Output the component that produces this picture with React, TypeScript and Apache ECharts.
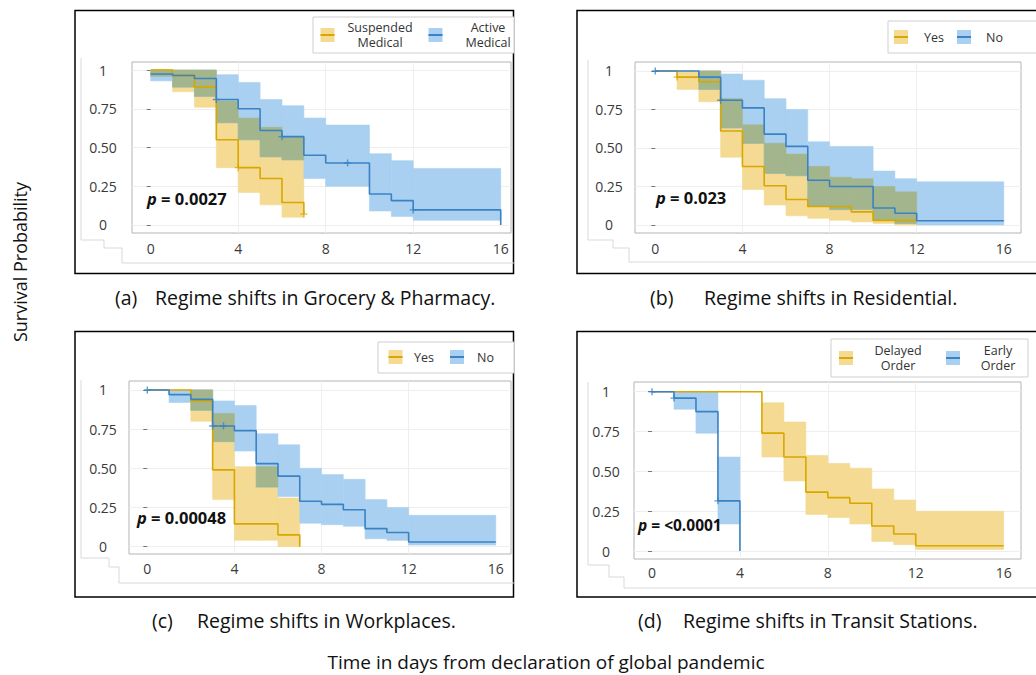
import React, { useEffect, useRef } from "react";
import * as echarts from "echarts";

const FONT = '"Open Sans", "Noto Sans", "DejaVu Sans", sans-serif';

// ---------------- data ----------------
const xTicks = [0, 4, 8, 12, 16];
const yTicks = [0, 0.25, 0.5, 0.75, 1];

// (a) Grocery & Pharmacy
const aSuspT = [0, 1, 2, 3, 4, 5, 6, 7];
const aSuspS = [1, 0.97, 0.89, 0.55, 0.37, 0.3, 0.145, 0.07];
const aSuspBandT = [0, 1, 2, 3, 4, 5, 6, 7];
const aSuspLo = [0.96, 0.86, 0.76, 0.37, 0.21, 0.13, 0.05];
const aSuspHi = [1, 1, 1, 0.8, 0.69, 0.63, 0.57];
const aSuspCens = [4, 7];
const aActT = [0, 1, 2, 3, 4, 5, 6, 7, 8, 10, 11, 12, 16];
const aActS = [0.975, 0.965, 0.945, 0.81, 0.75, 0.61, 0.57, 0.45, 0.4, 0.2, 0.157, 0.097, 0];
const aActBandT = [0, 1, 2, 3, 4, 5, 6, 7, 8, 10, 11, 12, 16];
const aActLo = [0.93, 0.89, 0.83, 0.66, 0.55, 0.44, 0.42, 0.3, 0.25, 0.09, 0.055, 0.03];
const aActHi = [1, 1, 1, 0.97, 0.92, 0.81, 0.77, 0.69, 0.645, 0.46, 0.415, 0.365];
const aActCens = [3, 6, 9, 12];

// (b) Residential
const bYesT = [0, 1, 2, 3, 4, 5, 6, 7, 9, 10, 12];
const bYesS = [1, 0.96, 0.93, 0.61, 0.38, 0.255, 0.165, 0.12, 0.085, 0.03, 0.03];
const bYesBandT = [1, 2, 3, 4, 5, 6, 7, 8, 9, 10, 11, 12];
const bYesLo = [0.88, 0.8, 0.44, 0.23, 0.13, 0.06, 0.043, 0.03, 0.02, 0.01, 0];
const bYesHi = [1, 1, 0.82, 0.65, 0.53, 0.46, 0.38, 0.31, 0.3, 0.25, 0.215];
const bYesCens = [1];
const bNoT = [0, 2, 3, 4, 5, 6, 7, 8, 10, 11, 12, 16];
const bNoS = [1, 0.96, 0.81, 0.76, 0.59, 0.51, 0.29, 0.25, 0.11, 0.076, 0.028, 0.028];
const bNoBandT = [2, 3, 4, 5, 6, 7, 8, 10, 11, 12, 16];
const bNoLo = [0.88, 0.63, 0.53, 0.335, 0.32, 0.12, 0.1, 0.03, 0.01, 0];
const bNoHi = [1, 0.98, 0.94, 0.82, 0.75, 0.54, 0.51, 0.35, 0.3, 0.28];
const bNoCens = [0, 3];

// (c) Workplaces
const cYesT = [0, 2, 3, 4, 6, 7];
const cYesS = [1, 0.93, 0.49, 0.145, 0.075, 0];
const cYesBandT = [2, 3, 4, 5, 6, 7];
const cYesLo = [0.8, 0.3, 0.04, 0.04, 0];
const cYesHi = [1, 0.85, 0.51, 0.51, 0.31];
const cYesCens: number[] = [];
const cNoT = [0, 1, 2, 3, 4, 5, 6, 7, 8, 9, 10, 11, 12, 16];
const cNoS = [1, 0.97, 0.94, 0.77, 0.74, 0.53, 0.45, 0.29, 0.27, 0.235, 0.115, 0.09, 0.03, 0.03];
const cNoBandT = [1, 2, 3, 4, 5, 6, 7, 8, 9, 10, 11, 12, 16];
const cNoLo = [0.92, 0.87, 0.67, 0.61, 0.38, 0.32, 0.15, 0.14, 0.13, 0.05, 0.04, 0.01];
const cNoHi = [1, 1, 0.93, 0.9, 0.72, 0.65, 0.5, 0.46, 0.43, 0.3, 0.25, 0.2];
const cNoCens = [0, 3, 3.5];

// (d) Transit Stations
const dDelT = [0, 5, 6, 7, 8, 9, 10, 11, 12, 16];
const dDelS = [1, 0.74, 0.59, 0.37, 0.335, 0.3, 0.157, 0.107, 0.033, 0.033];
const dDelBandT = [5, 6, 7, 8, 9, 10, 11, 12, 16];
const dDelLo = [0.59, 0.44, 0.23, 0.21, 0.17, 0.06, 0.04, 0.01];
const dDelHi = [0.93, 0.81, 0.6, 0.55, 0.52, 0.39, 0.32, 0.25];
const dDelCens: number[] = [];
const dEarT = [0, 1, 2, 3, 4];
const dEarS = [1, 0.96, 0.875, 0.315, 0];
const dEarBandT = [1, 2, 3, 4];
const dEarLo = [0.89, 0.74, 0.17];
const dEarHi = [1, 1, 0.59];
const dEarCens = [0, 1, 3];

const pValues = ["0.0027", "0.023", "0.00048", "<0.0001"];
const legendNames = [
  [["Suspended", "Medical"], ["Active", "Medical"]],
  [["Yes"], ["No"]],
  [["Yes"], ["No"]],
  [["Delayed", "Order"], ["Early", "Order"]],
];
const captionTags = ["(a)", "(b)", "(c)", "(d)"];
const captionTexts = [
  "Regime shifts in Grocery & Pharmacy.",
  "Regime shifts in Residential.",
  "Regime shifts in Workplaces.",
  "Regime shifts in Transit Stations.",
];
const yTitle = "Survival Probability";
const xTitle = "Time in days from declaration of global pandemic";

// ---------------- styles ----------------
const YEL_LINE = "#d8a800";
const BLU_LINE = "#3a82c4";
const YEL_BAND = "#f4da92";
const BLU_BAND = "#a9d0f0";
const MIX_BAND = "#a3b58c";

type Group = { T: number[]; S: number[]; bandT: number[]; lo: number[]; hi: number[]; cens: number[] };

const groups: { yel: Group; blu: Group }[] = [
  {
    yel: { T: aSuspT, S: aSuspS, bandT: aSuspBandT, lo: aSuspLo, hi: aSuspHi, cens: aSuspCens },
    blu: { T: aActT, S: aActS, bandT: aActBandT, lo: aActLo, hi: aActHi, cens: aActCens },
  },
  {
    yel: { T: bYesT, S: bYesS, bandT: bYesBandT, lo: bYesLo, hi: bYesHi, cens: bYesCens },
    blu: { T: bNoT, S: bNoS, bandT: bNoBandT, lo: bNoLo, hi: bNoHi, cens: bNoCens },
  },
  {
    yel: { T: cYesT, S: cYesS, bandT: cYesBandT, lo: cYesLo, hi: cYesHi, cens: cYesCens },
    blu: { T: cNoT, S: cNoS, bandT: cNoBandT, lo: cNoLo, hi: cNoHi, cens: cNoCens },
  },
  {
    yel: { T: dDelT, S: dDelS, bandT: dDelBandT, lo: dDelLo, hi: dDelHi, cens: dDelCens },
    blu: { T: dEarT, S: dEarS, bandT: dEarBandT, lo: dEarLo, hi: dEarHi, cens: dEarCens },
  },
];

// layout per panel
const layouts = [
  {
    grid: { left: 132, top: 62, width: 379, height: 171 },
    x: [-0.855, 16.47], y: [-0.052, 1.052], yM: 29, xM: 8,
    p: [147, 198], pSize: 16.5,
    box: [313, 17, 201, 36],
    items: [
      { icon: [327.5, 35], tx: 380, align: "center" },
      { icon: [435.5, 35], tx: 488, align: "center" },
    ],
    ty: 35,
    border: [75, 10.5, 438.5, 263],
    ghost: [[81, 58], [81, 240], [104, 240], [104, 248], [122, 248], [122, 263], [514, 263]],
    cap: [115, 155, 297],
  },
  {
    grid: { left: 635, top: 62, width: 386, height: 171 },
    x: [-0.932, 16.79], y: [-0.052, 1.058], yM: 26, xM: 8,
    p: [656, 197], pSize: 16.5,
    box: [888, 21, 160, 32],
    items: [
      { icon: [901, 37], tx: 924, align: "left" },
      { icon: [964, 37], tx: 986, align: "left" },
    ],
    ty: 37,
    border: [577, 10.5, 470, 263],
    ghost: [[588, 60], [588, 240], [613, 240], [613, 248], [629, 248], [629, 262], [1036, 262]],
    cap: [650, 704, 297],
  },
  {
    grid: { left: 129, top: 381, width: 382, height: 173 },
    x: [-0.84, 16.7], y: [-0.047, 1.057], yM: 26, xM: 7,
    p: [137, 517], pSize: 16.5,
    box: [378, 342, 136, 31],
    items: [
      { icon: [395.5, 357], tx: 414, align: "left" },
      { icon: [457, 357], tx: 477, align: "left" },
    ],
    ty: 357,
    border: [75, 331.5, 438.5, 265.5],
    ghost: [[81, 380], [81, 558], [109, 558], [109, 567], [119, 567], [119, 583], [514, 583]],
    cap: [152, 197, 620],
  },
  {
    grid: { left: 634, top: 382, width: 387, height: 177 },
    x: [-0.82, 16.79], y: [-0.05, 1.061], yM: 28, xM: 6,
    p: [638, 525], pSize: 15.5,
    box: [831, 339, 197, 38],
    items: [
      { icon: [846, 358], tx: 898, align: "center" },
      { icon: [953, 358], tx: 998, align: "center" },
    ],
    ty: 358,
    border: [577, 331.5, 470, 265.5],
    ghost: [[588, 382], [588, 565], [609, 565], [609, 577], [624, 577], [624, 588], [1036, 588]],
    cap: [638, 683, 620],
  },
];

// ---------------- helpers ----------------
const bandData = (g: Group) => g.lo.map((lo, i) => [g.bandT[i], g.bandT[i + 1], lo, g.hi[i]]);
const overlapData = (a: Group, b: Group) => {
  const out: number[][] = [];
  for (let i = 0; i < a.lo.length; i++)
    for (let j = 0; j < b.lo.length; j++) {
      const t0 = Math.max(a.bandT[i], b.bandT[j]);
      const t1 = Math.min(a.bandT[i + 1], b.bandT[j + 1]);
      const lo = Math.max(a.lo[i], b.lo[j]);
      const hi = Math.min(a.hi[i], b.hi[j]);
      if (t1 > t0 && hi > lo) out.push([t0, t1, lo, hi]);
    }
  return out;
};
const stepAt = (g: Group, t: number) => {
  let v = g.S[0];
  for (let i = 0; i < g.T.length; i++) if (g.T[i] <= t + 1e-9) v = g.S[i];
  return v;
};
const rectRenderer = (color: string) => (_params: any, api: any) => {
  const a = api.coord([api.value(0), api.value(3)]);
  const b = api.coord([api.value(1), api.value(2)]);
  return {
    type: "rect",
    shape: { x: a[0], y: a[1], width: b[0] - a[0], height: b[1] - a[1] },
    style: { fill: color, stroke: color, lineWidth: 0.6 },
  };
};
const PLUS = "path://M4,0H6V10H4ZM0,4H10V6H0Z";

function buildOption() {
  const grid: any[] = [];
  const xAxis: any[] = [];
  const yAxis: any[] = [];
  const series: any[] = [];
  const graphic: any[] = [];

  layouts.forEach((L, k) => {
    const g = groups[k];
    grid.push({ ...L.grid, show: true, borderColor: "#b4b4b4", borderWidth: 1, backgroundColor: "transparent" });
    xAxis.push({
      gridIndex: k, type: "value", min: L.x[0], max: L.x[1],
      axisLine: { show: false }, axisTick: { show: false }, splitLine: { show: false },
      axisLabel: { customValues: xTicks, fontSize: 14, color: "#3a3a3a", fontFamily: FONT, margin: L.xM },
    });
    yAxis.push({
      gridIndex: k, type: "value", min: L.y[0], max: L.y[1],
      axisLine: { show: false }, splitLine: { show: false },
      axisTick: { show: true, customValues: yTicks, length: 4, lineStyle: { color: "#777" } },
      axisLabel: {
        customValues: yTicks, fontSize: 14, color: "#3a3a3a", fontFamily: FONT, margin: L.yM, align: "center",
        formatter: (v: number) => (v === 1 ? "1" : v === 0 ? "0" : v.toFixed(2)),
      },
    });
    const common = { xAxisIndex: k, yAxisIndex: k };
    // faint grid lines, beneath everything
    series.push({
      ...common, type: "line", data: [], z: 0, silent: true,
      markLine: {
        silent: true, symbol: "none", label: { show: false }, z: 0,
        lineStyle: { color: "#eeeeee", width: 1, type: "solid" },
        data: [...yTicks.map((v) => ({ yAxis: v })), ...xTicks.slice(1, 4).map((v) => ({ xAxis: v }))],
      },
    });
    series.push({ ...common, type: "custom", renderItem: rectRenderer(YEL_BAND), data: bandData(g.yel), encode: { x: [0, 1], y: [2, 3] }, silent: true, z: 1 });
    series.push({ ...common, type: "custom", renderItem: rectRenderer(BLU_BAND), data: bandData(g.blu), encode: { x: [0, 1], y: [2, 3] }, silent: true, z: 1 });
    series.push({ ...common, type: "custom", renderItem: rectRenderer(MIX_BAND), data: overlapData(g.yel, g.blu), encode: { x: [0, 1], y: [2, 3] }, silent: true, z: 1 });
    [[g.yel, YEL_LINE], [g.blu, BLU_LINE]].forEach(([grp, col]: any) => {
      series.push({
        ...common, type: "line", step: "end", symbol: "none", z: 3,
        data: grp.T.map((t: number, i: number) => [t, grp.S[i]]),
        lineStyle: { color: col, width: 1.6 }, itemStyle: { color: col },
      });
      if (grp.cens.length)
        series.push({
          ...common, type: "scatter", symbol: PLUS, symbolSize: 7, z: 4,
          data: grp.cens.map((t: number) => [t, stepAt(grp, t)]),
          itemStyle: { color: col },
        });
    });

    // border & ghost outline
    graphic.push({ type: "rect", shape: { x: L.border[0], y: L.border[1], width: L.border[2], height: L.border[3] }, style: { fill: "none", stroke: "#000", lineWidth: 1.5 } });
    graphic.push({ type: "polyline", shape: { points: L.ghost }, style: { fill: "none", stroke: "#d9d9d9", lineWidth: 1 } });
    // legend
    graphic.push({ type: "rect", shape: { x: L.box[0], y: L.box[1], width: L.box[2], height: L.box[3] }, style: { fill: "#fff", stroke: "#cfcfcf", lineWidth: 1 } });
    L.items.forEach((it, j) => {
      const band = j === 0 ? YEL_BAND : BLU_BAND;
      const line = j === 0 ? YEL_LINE : BLU_LINE;
      graphic.push({ type: "rect", shape: { x: it.icon[0] - 7, y: it.icon[1] - 7, width: 14, height: 14 }, style: { fill: band } });
      graphic.push({ type: "line", shape: { x1: it.icon[0] - 7, y1: it.icon[1], x2: it.icon[0] + 7, y2: it.icon[1] }, style: { stroke: line, lineWidth: 2 } });
      const lines = legendNames[k][j];
      lines.forEach((txt, li) => {
        const yy = lines.length === 1 ? L.ty : L.ty + (li === 0 ? -7.5 : 7.5);
        graphic.push({
          type: "text", x: it.tx, y: yy,
          style: { text: txt, fontFamily: FONT, fontSize: 12.5, fill: "#333", textAlign: it.align, textVerticalAlign: "middle" },
        });
      });
    });
    // p-value
    graphic.push({
      type: "text", x: L.p[0], y: L.p[1], z: 10,
      style: {
        text: "{i|p} = " + pValues[k], fontFamily: FONT, fontSize: L.pSize, fontWeight: "bold", fill: "#111",
        textVerticalAlign: "middle",
        rich: { i: { fontStyle: "italic", fontWeight: "bold", fontSize: L.pSize, fontFamily: FONT, fill: "#111" } },
      },
    });
    // caption
    graphic.push({ type: "text", x: L.cap[0], y: L.cap[2], style: { text: captionTags[k], fontFamily: FONT, fontSize: 19.5, fill: "#111", textVerticalAlign: "middle" } });
    graphic.push({ type: "text", x: L.cap[1], y: L.cap[2], style: { text: captionTexts[k], fontFamily: FONT, fontSize: 19.5, fill: "#111", textVerticalAlign: "middle" } });
  });

  graphic.push({ type: "text", x: 20, y: 262, rotation: Math.PI / 2, style: { text: yTitle, fontFamily: FONT, fontSize: 18, fill: "#111", textAlign: "center", textVerticalAlign: "middle" } });
  graphic.push({ type: "text", x: 546, y: 662, style: { text: xTitle, fontFamily: FONT, fontSize: 19, fill: "#111", textAlign: "center", textVerticalAlign: "middle" } });

  return { animation: false, backgroundColor: "#fff", grid, xAxis, yAxis, series, graphic };
}

export default function App() {
  const ref = useRef<HTMLDivElement>(null);
  useEffect(() => {
    if (!ref.current) return;
    const chart = echarts.init(ref.current, undefined, { renderer: "svg" });
    chart.setOption(buildOption() as any);
    return () => chart.dispose();
  }, []);
  return <div ref={ref} style={{ position: "absolute", left: 0, top: 0, width: 1036, height: 675, background: "#fff" }} />;
}
